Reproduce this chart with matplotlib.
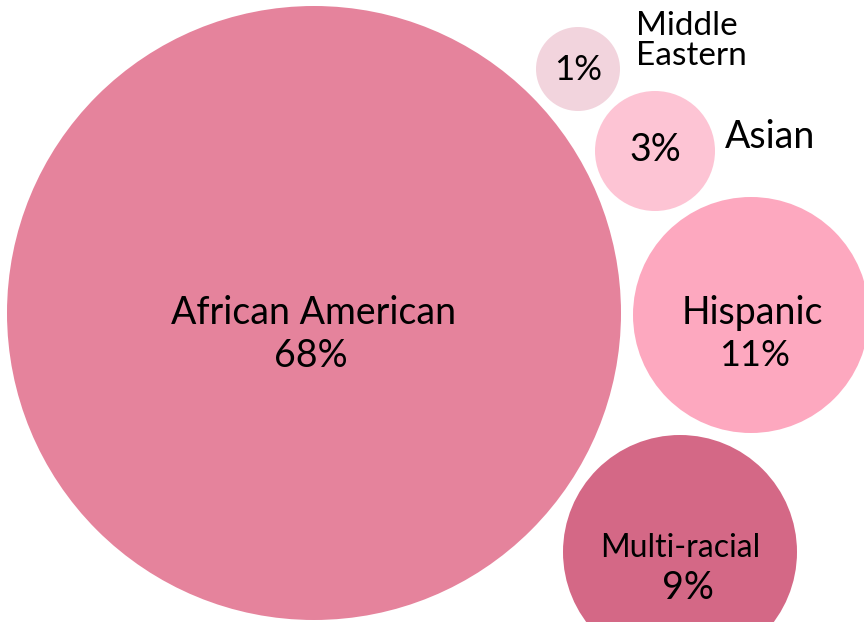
import matplotlib.pyplot as plt
from matplotlib.patches import Circle

# data
groups = ['African American', 'Hispanic', 'Multi-racial', 'Asian', 'Middle Eastern']
shares = [68, 11, 9, 3, 1]
colors = ['#E5839C', '#FDA8BF', '#D46886', '#FDC4D4', '#F2D4DD']

# layout of the packed bubbles (pixel space, y down)
centers = [(314, 313), (751, 315), (680, 552), (655, 151), (578, 69)]
radii = [307, 118, 117, 60, 42]

fig = plt.figure(figsize=(8.64, 6.22), dpi=100)
ax = fig.add_axes([0, 0, 1, 1])
ax.set_xlim(0, 864)
ax.set_ylim(622, 0)
ax.set_aspect('equal')
ax.axis('off')

plt.rcParams['font.family'] = ['Lato', 'DejaVu Sans']

for (cx, cy), r, c in zip(centers, radii, colors):
    ax.add_patch(Circle((cx, cy), r, color=c, lw=0))

# labels inside big bubbles
ax.text(314, 313, groups[0], ha='center', va='center', fontsize=27)
ax.text(311, 356, f'{shares[0]}%', ha='center', va='center', fontsize=27)
ax.text(752, 313, groups[1], ha='center', va='center', fontsize=27)
ax.text(755, 356, f'{shares[1]}%', ha='center', va='center', fontsize=26)
ax.text(680, 548, groups[2], ha='center', va='center', fontsize=23)
ax.text(688, 588, f'{shares[2]}%', ha='center', va='center', fontsize=27)

# small bubbles: value inside, name outside
ax.text(655, 150, f'{shares[3]}%', ha='center', va='center', fontsize=27)
ax.text(725, 137, groups[3], ha='left', va='center', fontsize=27)
ax.text(578, 70, f'{shares[4]}%', ha='center', va='center', fontsize=25)
ax.text(636, 41, 'Middle\nEastern', ha='left', va='center', fontsize=24, linespacing=1.0)

fig.savefig('out.png', dpi=100)
